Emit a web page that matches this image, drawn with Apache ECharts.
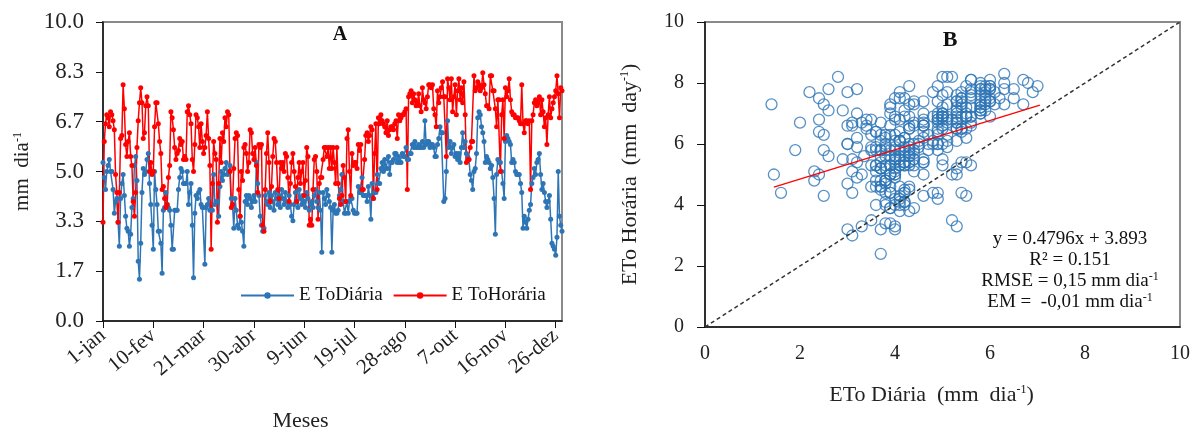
<!DOCTYPE html>
<html>
<head>
<meta charset="utf-8">
<script src="https://cdn.jsdelivr.net/npm/echarts@6/dist/echarts.min.js"></script>
<style>
html, body { margin: 0; padding: 0; background: #fff; }
#main { width: 1194px; height: 432px; }
</style>
</head>
<body>
<div id="main"></div>
<script>
// ticks of the day axis (every 40 days)
var dayTicks = ['1-jan', '10-fev', '21-mar', '30-abr', '9-jun', '19-jul', '28-ago', '7-out', '16-nov', '26-dez'];

// ETo diária (blue), one value per day
var etoDiaria = [
  5.3, 4.8, 4.4, 5.0, 5.2, 5.4, 5.0, 5.0, 4.4, 3.6,
  4.0, 4.1, 3.3, 2.5, 4.1, 4.6, 4.9, 4.2, 3.5, 3.1,
  3.0, 2.5, 2.9, 3.8, 4.1, 5.2, 5.5, 4.7, 2.0, 1.4,
  2.6, 4.3, 5.1, 4.9, 5.0, 5.4, 5.6, 4.6, 3.9, 3.2,
  2.4, 5.0, 4.4, 3.9, 3.0, 3.0, 2.6, 1.6, 3.7, 3.8,
  4.3, 3.9, 3.8, 3.7, 3.2, 2.4, 2.4, 3.7, 3.7, 3.7,
  4.4, 4.8, 5.1, 5.0, 4.6, 4.6, 4.6, 5.0, 3.9, 4.3,
  4.6, 3.2, 1.45, 3.6, 4.2, 4.1, 4.3, 4.4, 3.9, 3.8,
  3.8, 1.9, 3.8, 3.9, 4.1, 3.7, 3.7, 3.7, 4.9, 3.9,
  4.0, 4.0, 3.5, 4.5, 5.0, 4.7, 4.9, 5.1, 5.3, 4.9,
  5.0, 5.2, 4.1, 3.9, 3.1, 4.1, 3.7, 3.2, 3.1, 3.5,
  3.3, 3.0, 2.5, 4.0, 4.2, 3.9, 4.2, 4.1, 3.8, 4.0,
  4.2, 4.0, 5.3, 4.6, 4.2, 3.5, 3.2, 3.0, 3.1, 4.2,
  4.0, 3.9, 4.3, 3.8, 4.2, 4.0, 3.7, 4.3, 4.1, 3.9,
  4.2, 3.8, 4.4, 4.1, 3.9, 4.3, 4.0, 3.8, 4.2, 3.9,
  3.5, 3.35, 3.9, 4.3, 4.0, 3.8, 4.4, 4.1, 3.9, 4.2,
  4.0, 3.8, 4.3, 4.1, 3.7, 3.9, 4.0, 3.8, 4.2, 4.4,
  4.0, 3.8, 4.3, 3.7, 2.3, 4.3, 4.1, 3.9, 4.4, 4.2,
  4.0, 3.8, 2.3, 3.7, 3.9, 3.6, 3.6, 3.7, 4.2, 4.4,
  4.9, 4.0, 3.6, 3.6, 4.0, 3.6, 4.0, 4.1, 4.1, 3.7,
  3.6, 3.6, 3.6, 4.5, 4.3, 4.3, 4.8, 4.2, 4.2, 4.2,
  4.0, 4.5, 4.2, 3.4, 4.6, 4.1, 4.3, 4.3, 4.9, 4.6,
  4.6, 5.1, 5.3, 5.0, 5.4, 5.1, 5.1, 5.5, 4.9, 5.3,
  5.3, 5.4, 5.6, 5.6, 5.3, 5.5, 5.3, 5.3, 5.6, 5.5,
  5.5, 5.8, 5.4, 5.4, 5.6, 5.6, 5.9, 5.8, 6.0, 5.8,
  5.8, 5.9, 5.8, 5.8, 6.0, 5.8, 6.7, 5.9, 6.0, 6.0,
  5.8, 5.9, 5.9, 5.8, 5.5, 5.5, 5.9, 6.1, 6.5, 6.3,
  6.3, 4.0, 4.1, 5.0, 6.7, 5.8, 6.0, 5.6, 5.8, 5.9,
  5.5, 5.6, 5.4, 5.6, 5.3, 5.8, 6.3, 5.8, 6.0, 5.6,
  5.5, 5.4, 4.9, 4.7, 4.4, 5.0, 5.1, 5.6, 6.8, 7.0,
  6.9, 6.5, 6.3, 6.0, 5.3, 5.5, 5.4, 5.3, 5.1, 5.2,
  4.8, 4.1, 2.9, 4.9, 5.4, 5.3, 5.3, 5.0, 4.6, 4.1,
  6.0, 6.2, 6.1, 6.0, 5.9, 5.3, 5.4, 5.3, 5.0, 4.9,
  4.9, 4.9, 4.6, 4.3, 3.1, 3.5, 3.3, 3.1, 3.4, 3.7,
  3.9, 4.6, 4.8, 5.1, 4.9, 5.3, 5.4, 5.6, 4.9, 4.4,
  4.6, 4.3, 4.0, 3.8, 4.0, 4.2, 3.4, 2.6, 2.5, 2.4,
  2.2, 2.8, 5.0, 3.5, 3.2, 3.0
];

// ETo horária (red), one value per day
var etoHoraria = [
  3.3, 6.0, 6.6, 6.9, 6.8, 6.5, 7.0, 6.9, 6.7, 6.4,
  4.9, 4.3, 3.3, 4.3, 6.1, 6.2, 7.9, 7.1, 5.9, 5.5,
  6.0, 6.3, 5.5, 5.2, 4.0, 3.5, 4.3, 5.8, 6.7, 7.3,
  7.8, 7.3, 6.1, 6.3, 7.2, 7.5, 7.2, 5.0, 5.3, 4.9,
  5.0, 6.5, 7.3, 7.3, 6.6, 6.0, 5.6, 4.4, 4.5, 4.1,
  3.8, 3.9, 4.8, 5.2, 7.0, 6.8, 6.4, 5.8, 5.4, 5.6,
  5.7, 6.1, 5.9, 6.0, 5.4, 5.5, 5.4, 7.0, 7.2, 6.9,
  6.6, 5.4, 5.0, 5.9, 6.9, 6.8, 6.5, 5.8, 6.6, 6.0,
  5.6, 5.8, 6.2, 7.0, 6.1, 5.2, 2.4, 4.6, 6.0, 5.6,
  5.4, 3.3, 4.6, 6.1, 5.3, 6.3, 6.0, 6.8, 6.5, 7.0,
  6.9, 5.0, 3.8, 3.9, 5.1, 6.1, 6.3, 6.2, 4.4, 3.5,
  5.0, 4.7, 5.8, 5.9, 5.6, 5.0, 5.3, 6.4, 6.3, 5.6,
  5.4, 5.8, 5.2, 4.3, 5.9, 5.8, 5.9, 3.2, 3.0, 4.4,
  5.6, 6.3, 5.3, 4.0, 4.5, 5.5, 6.1, 6.0, 5.3, 4.4,
  4.1, 5.3, 5.1, 5.3, 5.0, 5.6, 5.5, 4.8, 4.0, 4.6,
  5.3, 5.6, 5.0, 4.5, 4.0, 4.8, 5.3, 4.6, 5.0, 5.3,
  4.2, 4.7, 5.8, 5.5, 3.2, 3.4, 3.2, 4.4, 5.4, 5.5,
  5.0, 3.4, 4.6, 4.8, 4.8, 5.4, 5.8, 5.8, 5.5, 5.8,
  5.1, 5.8, 5.1, 5.8, 5.3, 4.6, 5.8, 4.6, 4.1, 3.9,
  4.2, 5.2, 4.8, 4.0, 6.1, 6.4, 5.0, 4.2, 5.6, 5.2,
  5.3, 5.3, 5.1, 5.9, 5.7, 5.9, 4.4, 4.4, 5.4, 6.2,
  6.3, 6.0, 6.2, 6.5, 6.4, 4.1, 5.6, 6.6, 4.4, 6.8,
  6.6, 6.9, 6.7, 6.6, 6.5, 6.3, 6.7, 6.2, 6.4, 6.5,
  6.5, 6.4, 6.6, 6.7, 6.1, 6.9, 6.7, 6.8, 6.9, 6.9,
  7.0, 7.1, 4.4, 7.5, 7.6, 7.7, 7.3, 7.6, 7.4, 7.2,
  7.3, 7.6, 7.2, 7.0, 7.8, 7.4, 7.3, 7.1, 7.5, 7.9,
  7.9, 7.8, 7.9, 7.1, 6.9, 6.5, 7.7, 7.3, 7.5, 7.8,
  8.0, 7.5, 7.5, 5.5, 8.1, 7.8, 7.4, 8.1, 7.0, 7.5,
  7.9, 6.9, 7.7, 8.1, 7.4, 7.8, 7.3, 8.0, 6.9, 5.3,
  5.4, 5.4, 5.8, 6.0, 6.0, 8.2, 7.7, 7.8, 8.0, 7.9,
  7.7, 7.8, 8.3, 7.9, 7.6, 7.2, 7.2, 7.1, 8.2, 8.2,
  7.7, 7.7, 7.1, 6.5, 7.4, 7.4, 5.0, 6.9, 7.4, 6.1,
  7.8, 7.5, 7.7, 8.1, 7.4, 7.0, 6.9, 6.9, 6.8, 6.8,
  6.8, 6.7, 6.6, 7.9, 6.6, 6.3, 6.7, 6.7, 6.6, 6.7,
  4.4, 6.7, 6.9, 7.3, 7.4, 7.2, 7.3, 7.5, 6.9, 7.4,
  7.0, 6.5, 6.8, 5.9, 6.9, 7.5, 6.8, 7.1, 7.3, 7.5,
  7.7, 8.2, 7.6, 6.8, 7.8, 7.7
];

// regression shown in panel B: y = a*x + b, drawn over the range of the data
var regCoef = [0.4796, 3.893];
var regRange = [1.45, 7.05];
var statLines = [
  'y = 0.4796x + 3.893',
  'R² = 0.151',
  'RMSE = 0,15 mm dia{s|-1}',
  'EM =  -0,01 mm dia{s|-1}'
];

var chartDom = document.getElementById('main');
var myChart = echarts.init(chartDom);
var font = 'Liberation Serif';
var blue = '#2e75b6';
var red = '#ff0000';
var sup = { s: { fontSize: 12, fontFamily: font, verticalAlign: 'top', color: '#111' } };

var tickDays = dayTicks.map(function (t, i) { return i * 40; });
var lineA = etoDiaria.map(function (v, i) { return [i, v]; });
var lineB = etoHoraria.map(function (v, i) { return [i, v]; });
var pairs = etoDiaria.map(function (v, i) { return [v, etoHoraria[i]]; });
var regLine = regRange.map(function (x) { return [x, regCoef[0] * x + regCoef[1]]; });

var option = {
  animation: false,
  backgroundColor: '#fff',
  textStyle: { fontFamily: font, color: '#111' },
  grid: [
    { left: 103, top: 22, width: 459, height: 299, outerBoundsMode: 'none', show: true, borderColor: '#8a8a8a', borderWidth: 2 },
    { left: 705, top: 22, width: 475, height: 305, outerBoundsMode: 'none', show: true, borderColor: '#8a8a8a', borderWidth: 2 }
  ],
  legend: {
    data: ['E ToDiária', 'E ToHorária'],
    left: 240,
    top: 286,
    padding: 0,
    itemWidth: 53,
    itemHeight: 8,
    itemGap: 10,
    textStyle: { fontFamily: font, fontSize: 19, color: '#111' }
  },
  xAxis: [
    {
      gridIndex: 0, type: 'value', min: 0, max: 365, interval: 40,
      name: 'Meses', nameLocation: 'middle', nameGap: 89,
      nameTextStyle: { fontFamily: font, fontSize: 22, color: '#222', padding: [0, 64, 0, 0] },
      axisLine: { lineStyle: { color: '#111', width: 1.5 } },
      axisTick: { length: 7, customValues: tickDays, lineStyle: { color: '#111' } },
      splitLine: { show: false },
      axisLabel: {
        rotate: 40, margin: 12, fontFamily: font, fontSize: 21, color: '#222',
        customValues: tickDays,
        formatter: function (v) { return dayTicks[Math.round(v / 40)]; }
      }
    },
    {
      gridIndex: 1, type: 'value', min: 0, max: 10, interval: 2,
      name: 'ETo Diária  (mm  dia{s|-1})', nameLocation: 'middle', nameGap: 57,
      nameTextStyle: { fontFamily: font, fontSize: 22, color: '#222', rich: sup, padding: [0, 22, 0, 0] },
      axisLine: { lineStyle: { color: '#111', width: 1.5 } },
      axisTick: { show: false },
      splitLine: { show: false },
      axisLabel: { margin: 17, fontFamily: font, fontSize: 20, color: '#222' }
    }
  ],
  yAxis: [
    {
      gridIndex: 0, type: 'value', min: 0, max: 10, interval: 10 / 6,
      name: 'mm  dia{s|-1}', nameLocation: 'middle', nameGap: 70,
      nameTextStyle: { fontFamily: font, fontSize: 21, color: '#222', rich: sup },
      axisLine: { lineStyle: { color: '#111', width: 1.5 } },
      axisTick: { length: 7, lineStyle: { color: '#111' } },
      splitLine: { show: false },
      axisLabel: {
        margin: 19, fontFamily: font, fontSize: 23, color: '#222',
        formatter: function (v) { return (+v).toFixed(1); }
      }
    },
    {
      gridIndex: 1, type: 'value', min: 0, max: 10, interval: 2,
      name: 'ETo Horária  (mm  day{s|-1})', nameLocation: 'middle', nameGap: 64,
      nameTextStyle: { fontFamily: font, fontSize: 22, color: '#222', rich: sup },
      axisLine: { lineStyle: { color: '#111', width: 1.5 } },
      axisTick: { length: 8, lineStyle: { color: '#111' } },
      splitLine: { show: false },
      axisLabel: { margin: 21, fontFamily: font, fontSize: 20, color: '#222' }
    }
  ],
  graphic: [
    { type: 'text', x: 340, y: 35, style: { text: 'A', align: 'center', verticalAlign: 'middle', fontFamily: font, fontSize: 20, fontWeight: 'bold', fill: '#111' } },
    { type: 'text', x: 950, y: 40, style: { text: 'B', align: 'center', verticalAlign: 'middle', fontFamily: font, fontSize: 22, fontWeight: 'bold', fill: '#111' } },
    {
      type: 'text', x: 1070, y: 229,
      style: {
        text: statLines.join('\n'), align: 'center', verticalAlign: 'top', lineHeight: 21,
        fontFamily: font, fontSize: 19, fill: '#111', rich: sup
      }
    }
  ],
  series: [
    {
      name: 'E ToDiária', type: 'line', xAxisIndex: 0, yAxisIndex: 0,
      data: lineA, symbol: 'circle', symbolSize: 5,
      lineStyle: { color: blue, width: 1.5 }, itemStyle: { color: blue }
    },
    {
      name: 'E ToHorária', type: 'line', xAxisIndex: 0, yAxisIndex: 0,
      data: lineB, symbol: 'circle', symbolSize: 5,
      lineStyle: { color: red, width: 1.5 }, itemStyle: { color: red }
    },
    {
      name: 'pares', type: 'scatter', xAxisIndex: 1, yAxisIndex: 1,
      data: pairs, symbol: 'circle', symbolSize: 11,
      itemStyle: { color: 'rgba(0,0,0,0)', borderColor: blue, borderWidth: 1.3 }
    },
    {
      name: '1:1', type: 'line', xAxisIndex: 1, yAxisIndex: 1,
      data: [[0, 0], [10, 10]], symbol: 'none',
      lineStyle: { color: '#333', width: 1.5, type: [4, 3] }
    },
    {
      name: 'reg', type: 'line', xAxisIndex: 1, yAxisIndex: 1,
      data: regLine, symbol: 'none',
      lineStyle: { color: red, width: 1.2 }
    }
  ]
};

option && myChart.setOption(option);
window.addEventListener('resize', function () {
  myChart.resize();
});
</script>
</body>
</html>
